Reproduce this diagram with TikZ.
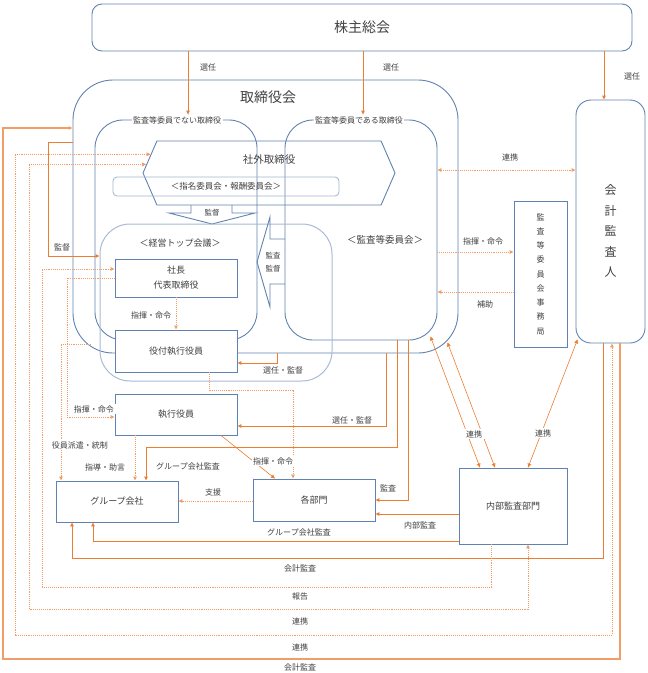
\documentclass[tikz,border=0pt]{standalone}
\usepackage{fontspec}
\setmainfont{Noto Sans CJK JP}
\usetikzlibrary{arrows.meta,shapes.symbols}
\definecolor{frameblue}{RGB}{96,130,176}
\definecolor{linkorange}{RGB}{237,125,49}
\definecolor{textgray}{RGB}{64,64,64}

\begin{document}
\begin{tikzpicture}[x=1pt, y=-1pt, >={Triangle[length=4pt,width=3.6pt]},
  every node/.style={text=textgray, inner sep=1pt},
  frame/.style={draw=frameblue, line width=0.9pt, inner sep=0pt},
  unit/.style={frame, fill=white, align=center, font=\fontsize{9}{12}\selectfont},
  lbl/.style={fill=white, inner sep=1.5pt, font=\fontsize{8}{10}\selectfont},
  conn/.style={draw=linkorange, line width=0.9pt},
  dconn/.style={draw=linkorange!75, line width=0.9pt, densely dotted}]
\useasboundingbox (0,0) rectangle (648,673);

\node[frame, rounded corners=10pt, minimum width=540pt, minimum height=47pt, font=\fontsize{14}{16}\selectfont] (gms) at (362,27.5) {株主総会};
\node[frame, rounded corners=40pt, minimum width=385pt, minimum height=273pt] (board) at (265.5,216.5) {};
\node[font=\fontsize{14}{16}\selectfont] (boardtxt) at (268,97) {取締役会};
\node[frame, rounded corners=28pt, minimum width=162pt, minimum height=220pt] (nonaudit) at (176,230) {};
\node[frame, rounded corners=28pt, minimum width=152pt, minimum height=220pt] (audit) at (361,230) {};
\node[lbl] (nonaudittxt) at (177,120) {監査等委員でない取締役};
\node[lbl] (audittxt) at (359,120) {監査等委員である取締役};

\node[frame, signal, signal to=west and east, signal pointer angle=133, minimum width=252pt, minimum height=64pt] (outside) at (269,173) {};
\node[font=\fontsize{10.5}{12}\selectfont] (outsidetxt) at (269,160) {社外取締役};
\node[draw=frameblue!60, line width=0.8pt, rounded corners=4pt, minimum width=226pt, minimum height=19pt, font=\fontsize{8.5}{10}\selectfont] (nomination) at (226,186.5) {＜指名委員会・報酬委員会＞};
\draw[frameblue, line width=0.9pt] (191,205) -- (191,213) -- (169,213) -- (212,224) -- (255,213) -- (232,213) -- (232,205);
\node[font=\fontsize{7.5}{9}\selectfont] (supervise) at (212,213) {監督};

\node[draw=frameblue!55, line width=1pt, rounded corners=30pt, minimum width=232pt, minimum height=157pt] (topmeet) at (216,302.5) {};
\node[font=\fontsize{9}{11}\selectfont] (topmeettxt) at (180,243) {＜経営トップ会議＞};
\draw[frameblue, line width=0.9pt] (285,239) -- (270,239) -- (270,217) -- (257,262) -- (270,307) -- (270,284) -- (285,284);
\node[align=center, font=\fontsize{7.5}{13}\selectfont] (audsup) at (273,262) {監査\\監督};
\node[font=\fontsize{9.5}{11}\selectfont] (committee) at (385,240) {＜監査等委員会＞};

\node[unit, minimum width=122pt, minimum height=38pt, font=\fontsize{9}{15}\selectfont] (pres) at (176,278) {社長\\代表取締役};
\node[unit, minimum width=122pt, minimum height=42pt] (officer) at (176,351) {役付執行役員};
\node[unit, minimum width=122pt, minimum height=41pt] (exec) at (176,414.5) {執行役員};
\node[unit, minimum width=122pt, minimum height=41pt] (group) at (117,501.5) {グループ会社};
\node[unit, minimum width=122pt, minimum height=42pt] (depts) at (314,500) {各部門};
\node[unit, minimum width=108pt, minimum height=76pt] (internal) at (513,506) {内部監査部門};
\node[unit, minimum width=53pt, minimum height=146pt, font=\fontsize{8}{14.25}\selectfont] (office) at (540.5,274) {監\\査\\等\\委\\員\\会\\事\\務\\局};
\node[frame, rounded corners=15pt, minimum width=69pt, minimum height=243pt] (cpa) at (610.5,221.5) {};
\node[align=center, font=\fontsize{12}{20.6}\selectfont] (cpatxt) at (610.5,231) {会\\計\\監\\査\\人};

\draw[conn,->] (gms.south -| 188,0) -- (nonaudittxt.north -| 188,0);
\draw[conn,->] (gms.south -| 363,0) -- (audittxt.north -| 363,0);
\draw[conn,->] (gms.south -| 604,0) -- (cpa.north -| 604,0);
\draw[dconn,<->] (audit.east |- 0,170) -- (cpa.west |- 0,170);
\draw[dconn,->] (audit.east |- 0,252) -- (office.west |- 0,252);
\draw[dconn,->] (office.west |- 0,292) -- (audit.east |- 0,292);
\draw[conn,<->,line width=0.6pt] ([shift={(-7,-4)}]audit.south east) -- (internal.north -| 480,0);
\draw[conn,<->,line width=0.6pt] ([shift={(-11,-11)}]board.south east) -- (internal.north -| 495,0);
\draw[conn,<->,line width=0.6pt] ([shift={(2,-4)}]cpa.south west) -- (internal.north -| 528,0);
\draw[conn,->] (audit.south -| 408,0) |- (depts.east);
\draw[conn,->] (internal.west |- 0,514) -- (depts.east |- 0,514);
\draw[conn,->] (internal.west |- 0,541) -| (group.south -| 93,0);
\draw[conn,->] (cpa.south -| 603,0) |- (72,558) -- (group.south -| 72,0);
\draw[dconn,->] (internal.south -| 491,0) |- (42,587) |- (pres.west |- 0,269);
\draw[dconn,<->] (outside.176) -| (29,609) -| (internal.south -| 528,0);
\draw[dconn,<->] (outside.171) -| (15,635) -| (cpa.south -| 612,0);
\draw[conn,->,line width=1.3pt,draw=linkorange!75] (cpa.south -| 620,0) |- (3,659) |- (board.west |- 0,128);
\draw[conn,->] (board.west |- 0,142) -| (48,256) -- (topmeet.west |- 0,256);
\draw[dconn,->] ([shift={(18,-9)}]board.south west) -| (group.north -| 61,0);
\draw[dconn,->] (pres.west) -| (67,417) -- (exec.west |- 0,417);
\draw[dconn,->] (exec.south -| 135,0) -- (group.north -| 135,0);
\draw[conn,->] (audit.south -| 397,0) |- (146,447) -- (group.north -| 146,0);
\draw[conn,->] (board.south -| 277,0) |- (officer.east |- 0,363);
\draw[conn,->] (board.south -| 386,0) |- (exec.east |- 0,426);
\draw[dconn,->] (pres.south) -- (officer.north);
\draw[dconn,->] (officer.south -| 209,0) |- (293,390) -- (depts.north -| 293,0);
\draw[conn,->,line width=0.6pt] (exec.south -| 221,0) -- (depts.north -| 275,0);
\draw[dconn,->] (depts.west |- 0,501) -- (group.east |- 0,501);

\node[lbl] (appoint1) at (208,67) {選任};
\node[lbl] (appoint2) at (391,67) {選任};
\node[lbl] (appoint3) at (632,76) {選任};
\node[lbl] (link1) at (510,157) {連携};
\node[lbl] (order1) at (483,241) {指揮・命令};
\node[lbl] (assist) at (485,304) {補助};
\node[lbl, inner xsep=4pt] (link2) at (474,434) {連携};
\node[lbl, inner xsep=3pt] (link3) at (543,433) {連携};
\node[lbl] (oversee) at (62,247) {監督};
\node[lbl] (dispatch) at (80,445) {役員派遣・統制};
\node[lbl] (order2) at (94,409) {指揮・命令};
\node[lbl] (order3) at (151,315) {指揮・命令};
\node[lbl] (guide) at (105,467) {指導・助言};
\node[lbl] (groupaudit1) at (188,466) {グループ会社監査};
\node[lbl] (order4) at (273,461) {指揮・命令};
\node[lbl] (support) at (213,492) {支援};
\node[lbl] (auditlbl) at (388,488) {監査};
\node[lbl] (internallbl) at (420,525) {内部監査};
\node[lbl] (groupaudit2) at (299,532) {グループ会社監査};
\node[lbl] (cpaaudit1) at (300,568) {会計監査};
\node[lbl] (report) at (300,596) {報告};
\node[lbl] (link4) at (300,621) {連携};
\node[lbl] (link5) at (300,647) {連携};
\node[lbl] (cpaaudit2) at (300,667) {会計監査};
\node[lbl] (appoint4) at (283,370) {選任・監督};
\node[lbl] (appoint5) at (352,420) {選任・監督};
\end{tikzpicture}
\end{document}
